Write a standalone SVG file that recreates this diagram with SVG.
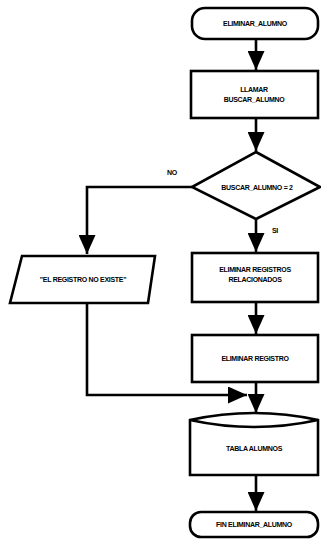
<svg xmlns="http://www.w3.org/2000/svg" width="321" height="540" viewBox="0 0 321 540">
<style>
.s{fill:#fff;stroke:#000;stroke-width:2.6}
.l{fill:none;stroke:#000;stroke-width:2.6}
.t{font-family:"Liberation Sans",Arial,sans-serif;font-weight:bold;font-size:7px;fill:#000;text-anchor:middle;letter-spacing:-0.3px}
</style>
<defs>
<marker id="a" markerWidth="19" markerHeight="17" refX="0" refY="0" viewBox="-19 -8.5 19 17" orient="auto" markerUnits="userSpaceOnUse">
<path d="M0,0 L-19,-8.5 L-19,8.5 Z" fill="#000"/>
</marker>
</defs>
<rect width="321" height="540" fill="#fff"/>
<g id="connectors">
<path class="l" d="M256,38 V70" marker-end="url(#a)"/>
<path class="l" d="M256,118 V151" marker-end="url(#a)"/>
<path class="l" d="M192,187 H87 V254" marker-end="url(#a)"/>
<path class="l" d="M256,219 V252" marker-end="url(#a)"/>
<path class="l" d="M256,302 V334" marker-end="url(#a)"/>
<path class="l" d="M87,303 V395 H247" marker-end="url(#a)"/>
<path class="l" d="M256,382 V413" marker-end="url(#a)"/>
<path class="l" d="M256,475 V511" marker-end="url(#a)"/>
</g>
<g id="start">
<rect class="s" x="192" y="8" width="126" height="31" rx="13"/>
<text class="t" x="255" y="26">ELIMINAR_ALUMNO</text>
</g>
<g id="call">
<rect class="s" x="191" y="71" width="127" height="47"/>
<text class="t" x="254" y="92">LLAMAR</text>
<text class="t" x="254" y="102">BUSCAR_ALUMNO</text>
</g>
<g id="decision">
<polygon class="s" points="256,152 320,187 256,219 192,187"/>
<text class="t" x="257" y="190">BUSCAR_ALUMNO = 2</text>
<text class="t" x="172" y="175">NO</text>
<text class="t" x="275" y="233">SI</text>
</g>
<g id="message">
<polygon class="s" points="22,256 155,256 148,303 10,303"/>
<text class="t" x="83" y="282">"EL REGISTRO NO EXISTE"</text>
</g>
<g id="delrel">
<rect class="s" x="192" y="253" width="126" height="49"/>
<text class="t" x="255" y="272">ELIMINAR REGISTROS</text>
<text class="t" x="255" y="282">RELACIONADOS</text>
</g>
<g id="del">
<rect class="s" x="192" y="335" width="126" height="47"/>
<text class="t" x="255" y="361">ELIMINAR REGISTRO</text>
</g>
<g id="table">
<path class="s" d="M190,420 Q254,406 318,420 V475 H190 Z"/>
<path class="l" d="M190,420 Q254,434 318,420"/>
<text class="t" x="254" y="451">TABLA ALUMNOS</text>
</g>
<g id="end">
<rect class="s" x="190" y="512" width="128" height="25" rx="11"/>
<text class="t" x="254" y="527">FIN ELIMINAR_ALUMNO</text>
</g>
</svg>
